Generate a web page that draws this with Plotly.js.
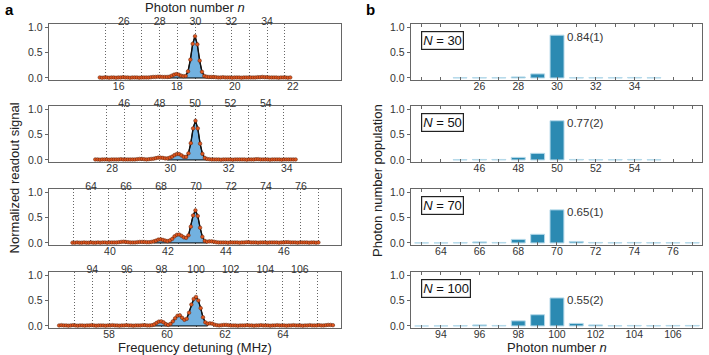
<!DOCTYPE html>
<html>
<head>
<meta charset="utf-8">
<script src="https://cdn.plot.ly/plotly-3.0.1.min.js"></script>
<style>html,body{margin:0;padding:0;background:#fff}</style>
</head>
<body>
<div id="chart" style="width:709px;height:355px"></div>
<script>
// panel a: readout spectra, sampled every 0.08 MHz from freqStart
const freqStep = 0.08;
const freqStart = [15.35, 27.42, 38.71, 56.28];

const signal30 = [
  0.01,0.005,0.01,0.01,0.005,0.01,0.01,0.005,0.01,0.01,
  0.015,0.01,0.01,0.005,0.01,0.01,0.01,0.005,0.01,0.01,
  0.01,0.01,0.015,0.02,0.02,0.025,0.025,0.02,0.02,
  0.02,0.025,0.045,0.065,0.075,0.065,0.045,0.035,0.04,
  0.13,0.36,0.67,0.82,0.66,0.34,0.12,0.04,0.025,
  0.02,0.02,0.02,0.015,0.01,0.01,0.015,0.01,0.01,0.01,
  0.005,0.01,0.01,0.01,0.005,0.01,0.01,0.01,0.01,0.01,
  0.01,0.015,0.015,0.02,0.015,0.015,0.01,0.01,0.01,0.01,
  0.005,0.01,0.01,0.01,0.005,0.01
];
const signal50 = [
  0.01,0.01,0.005,0.01,0.01,0.01,0.005,0.01,0.01,0.01,
  0.01,0.015,0.01,0.01,0.01,0.01,0.01,0.01,0.015,0.02,
  0.02,0.015,0.01,0.015,0.02,0.025,0.035,0.045,
  0.045,0.04,0.03,0.03,0.045,0.065,0.095,
  0.115,0.115,0.09,0.06,0.06,0.13,0.33,0.62,
  0.77,0.62,0.32,0.12,0.04,0.02,
  0.015,0.01,0.01,0.01,0.01,0.005,0.01,0.01,0.01,0.01,
  0.005,0.01,0.01,0.01,0.01,0.01,0.005,0.01,0.01,0.01,
  0.015,0.015,0.01,0.01,0.01,0.01,0.005,0.01,0.01,0.01,
  0.01,0.005,0.01,0.01,0.01,0.01,0.01,0.01
];
const signal70 = [
  0.005,0.005,0.01,0.005,0.005,0.01,0.005,0.005,0.01,0.005,
  0.005,0.01,0.005,0.01,0.01,0.005,0.01,0.01,0.01,0.01,
  0.015,0.02,0.025,0.02,0.015,0.01,0.01,0.01,0.015,0.02,
  0.02,0.02,0.015,0.015,0.02,0.03,
  0.045,0.065,0.07,0.06,0.045,0.035,0.05,0.08,
  0.13,0.16,0.165,0.14,0.11,0.10,0.15,0.32,0.54,
  0.64,0.53,0.30,0.12,0.04,0.025,0.03,0.03,0.025,
  0.015,0.01,0.01,0.01,0.01,0.005,0.01,0.01,0.01,0.01,
  0.005,0.01,0.01,0.015,0.015,0.01,0.01,0.01,0.005,0.01,
  0.01,0.01,0.005,0.01,0.01,0.01,0.01,0.005,0.01,0.01,
  0.015,0.015,0.01,0.01,0.01,0.005,0.01,0.01,0.01,0.01,
  0.005,0.01,0.01,0.005,0.01
];
const signal100 = [
  0.01,0.015,0.01,0.01,0.005,0.01,0.015,0.01,0.005,0.01,
  0.01,0.005,0.01,0.01,0.015,0.01,0.005,0.01,0.01,0.01,
  0.005,0.01,0.01,0.015,0.01,0.01,0.005,0.01,0.01,0.015,
  0.01,0.01,0.005,0.01,0.01,0.01,0.015,0.015,0.01,
  0.01,0.015,0.03,0.06,0.085,0.09,0.07,0.035,0.02,
  0.04,0.09,0.15,0.20,0.21,0.16,0.12,0.14,0.26,
  0.42,0.53,0.57,0.50,0.35,0.17,0.07,
  0.045,0.05,0.045,0.025,0.015,0.01,0.015,
  0.02,0.02,0.015,0.01,0.01,0.01,0.005,0.01,0.01,0.01,
  0.015,0.01,0.01,0.005,0.01,0.01,0.015,0.01,0.01,0.01,
  0.005,0.01,0.01,0.015,0.01,0.01,0.01,0.005,0.01,0.01,
  0.015,0.01,0.01,0.01,0.005,0.01,0.01,0.015,0.01,0.01,
  0.01,0.015,0.01,0.01,0.015,0.02,0.02,0.015
];
const signals = [signal30, signal50, signal70, signal100];
// index span of the shaded (fitted) region in each spectrum
const fillIdx = [[29, 49], [31, 48], [35, 58], [39, 64]];
const freqTicks = [[16, 18, 20, 22], [28, 30, 32, 34], [40, 42, 44, 46], [58, 60, 62, 64]];

// panel b: photon number populations
const n30 = [25,26,27,28,29,30,31,32,33,34,35];
const pop30 = [0.005,0.005,0.005,0.02,0.08,0.84,0.005,0.005,0.005,0.01,0.005];
const n50 = [45,46,47,48,49,50,51,52,53,54,55];
const pop50 = [0.005,0.01,0.01,0.05,0.13,0.77,0.01,0.005,0.005,0.01,0.005];
const n70 = [63,64,65,66,67,68,69,70,71,72,73,74,75,76,77];
const pop70 = [0.002,0.002,0.005,0.02,0.01,0.07,0.17,0.65,0.03,0.01,0.005,0.01,0.005,0.005,0.005];
const n100 = [93,94,95,96,97,98,99,100,101,102,103,104,105,106,107];
const pop100 = [0,0.002,0.005,0.02,0.01,0.1,0.22,0.55,0.05,0.02,0.005,0.01,0.005,0.01,0.01];
const nBars = [n30, n50, n70, n100];
const pops = [pop30, pop50, pop70, pop100];
const meanN = [30, 50, 70, 100];
const peakLabels = ['0.84(1)', '0.77(2)', '0.65(1)', '0.55(2)'];

const freqRange = [[13.6, 23.66], [25.83, 35.86], [37.9, 47.97], [55.93, 66.0]];
const nRangeTop = [[21.82, 38.13], [41.75, 58.25], [61.6, 78.29], [91.5, 108.38]];
const nRangeBar = [[22.47, 37.47], [42.47, 57.47], [62.45, 77.5], [92.45, 107.5]];
const rowDom = [[0.7746, 0.9324], [0.5437, 0.7014], [0.3099, 0.4676], [0.0761, 0.2338]];
const leftDom = [0.0691, 0.481];
const rightDom = [0.5797, 0.990];

const FONT = 'Liberation Sans, Arial, sans-serif';
const tickFont = {family: FONT, size: 10.5, color: '#333'};
const frameColor = '#666';

function nTicks(ns, range) {
  const vals = [], text = [];
  for (let n = Math.ceil(range[0]); n <= Math.floor(range[1]); n++) {
    vals.push(n);
    text.push(n % 2 === 0 && n >= ns[0] && n <= ns[ns.length - 1] ? String(n) : '');
  }
  return {vals, text};
}

const traces = [];
const layout = {
  width: 709, height: 355,
  margin: {l: 0, r: 0, t: 0, b: 0},
  paper_bgcolor: '#fff', plot_bgcolor: '#fff',
  showlegend: false, hovermode: false,
  font: {family: FONT, color: '#222'},
  annotations: []
};

for (let k = 0; k < 4; k++) {
  const xs = signals[k].map((_, i) => freqStart[k] + i * freqStep);
  const ys = signals[k];
  const [i0, i1] = fillIdx[k];
  const fx = xs.slice(i0, i1 + 1).concat([xs[i1], xs[i0]]);
  const fy = ys.slice(i0, i1 + 1).concat([0, 0]);
  const xa = 'x' + (k + 1), ya = 'y' + (k + 1);

  traces.push({x: fx, y: fy, xaxis: xa, yaxis: ya, mode: 'lines', fill: 'toself',
    fillcolor: '#72b1e0', line: {color: '#000', width: 1}});
  traces.push({x: xs, y: ys, xaxis: xa, yaxis: ya, mode: 'lines+markers',
    line: {color: '#111', width: 1.4},
    marker: {size: 3.6, color: '#e0561f', line: {color: '#5a2008', width: 0.5}}});
  traces.push({x: [], y: [], xaxis: 'x' + (k + 5), yaxis: ya, mode: 'markers'});
  traces.push({type: 'bar', x: nBars[k], y: pops[k], xaxis: 'x' + (k + 9), yaxis: 'y' + (k + 5),
    width: 0.72, marker: {color: '#2b8ab2', line: {color: '#b5d9ea', width: 1}}});

  const yAxis = {
    domain: rowDom[k], range: [-0.04, 1.06], tickvals: [0, 0.5, 1], ticktext: ['0.0', '0.5', '1.0'],
    ticks: 'outside', ticklen: 3, tickcolor: frameColor, showline: true, mirror: true,
    linecolor: frameColor, linewidth: 1.4, showgrid: false, zeroline: false, tickfont: tickFont
  };
  layout['yaxis' + (k + 1)] = Object.assign({anchor: xa}, yAxis);
  layout['yaxis' + (k + 5)] = Object.assign({anchor: 'x' + (k + 9)}, yAxis);

  layout['xaxis' + (k + 1)] = {
    domain: leftDom, anchor: ya, range: freqRange[k], tickvals: freqTicks[k], ticks: '',
    ticklabelstandoff: -4,
    showline: true, mirror: true, linecolor: frameColor, linewidth: 1.4,
    showgrid: false, zeroline: false, tickfont: tickFont
  };
  const tt = nTicks(nBars[k], [nBars[k][0], nBars[k][nBars[k].length - 1]]);
  layout['xaxis' + (k + 5)] = {
    overlaying: xa, anchor: ya, side: 'top', range: nRangeTop[k],
    tickvals: tt.vals, ticktext: tt.text, ticks: '', ticklabelstandoff: -4,
    showline: false, zeroline: false,
    showgrid: true, griddash: '1px,2px', gridcolor: '#666', gridwidth: 1, tickfont: tickFont
  };
  const tb = nTicks(nBars[k], nRangeBar[k]);
  layout['xaxis' + (k + 9)] = {
    domain: rightDom, anchor: 'y' + (k + 5), range: nRangeBar[k],
    tickvals: tb.vals, ticktext: tb.text, ticks: 'inside', ticklen: 3, tickcolor: frameColor,
    ticklabelstandoff: -4,
    showline: true, mirror: 'ticks', linecolor: frameColor, linewidth: 1.4,
    showgrid: false, zeroline: false, tickfont: tickFont
  };

  layout.annotations.push({
    xref: 'x' + (k + 9) + ' domain', yref: 'y' + (k + 5) + ' domain', x: 0.035, y: 0.875,
    xanchor: 'left', yanchor: 'top', showarrow: false,
    text: '<i>N</i> = ' + meanN[k], font: {family: FONT, size: 13, color: '#111'},
    bordercolor: '#222', borderwidth: 1.2, borderpad: 1, bgcolor: '#fff'
  });
  const peak = Math.max(...pops[k]);
  layout.annotations.push({
    xref: 'x' + (k + 9), yref: 'y' + (k + 5), x: meanN[k] + 0.4, y: peak - 0.04,
    xanchor: 'left', yanchor: 'middle', showarrow: false,
    text: peakLabels[k], font: {family: FONT, size: 11.5, color: '#333'}
  });
}

const txt = (text, x, y, extra) => Object.assign({
  xref: 'paper', yref: 'paper', x, y, xanchor: 'center', yanchor: 'middle',
  showarrow: false, text, font: {family: FONT, size: 13, color: '#222'}
}, extra || {});
layout.annotations.push(
  txt('Photon number <i>n</i>', 0.275, 0.978),
  txt('Frequency detuning (MHz)', 0.275, 0.02),
  txt('Normalized readout signal', 0.021, 0.5, {textangle: -90}),
  txt('Photon number population', 0.533, 0.493, {textangle: -90}),
  txt('Photon number <i>n</i>', 0.786, 0.02),
  txt('<b>a</b>', 0.014, 0.972, {font: {family: FONT, size: 15, color: '#000'}}),
  txt('<b>b</b>', 0.522, 0.972, {font: {family: FONT, size: 15, color: '#000'}})
);

Plotly.newPlot('chart', traces, layout, {staticPlot: true, displayModeBar: false});
</script>
</body>
</html>
